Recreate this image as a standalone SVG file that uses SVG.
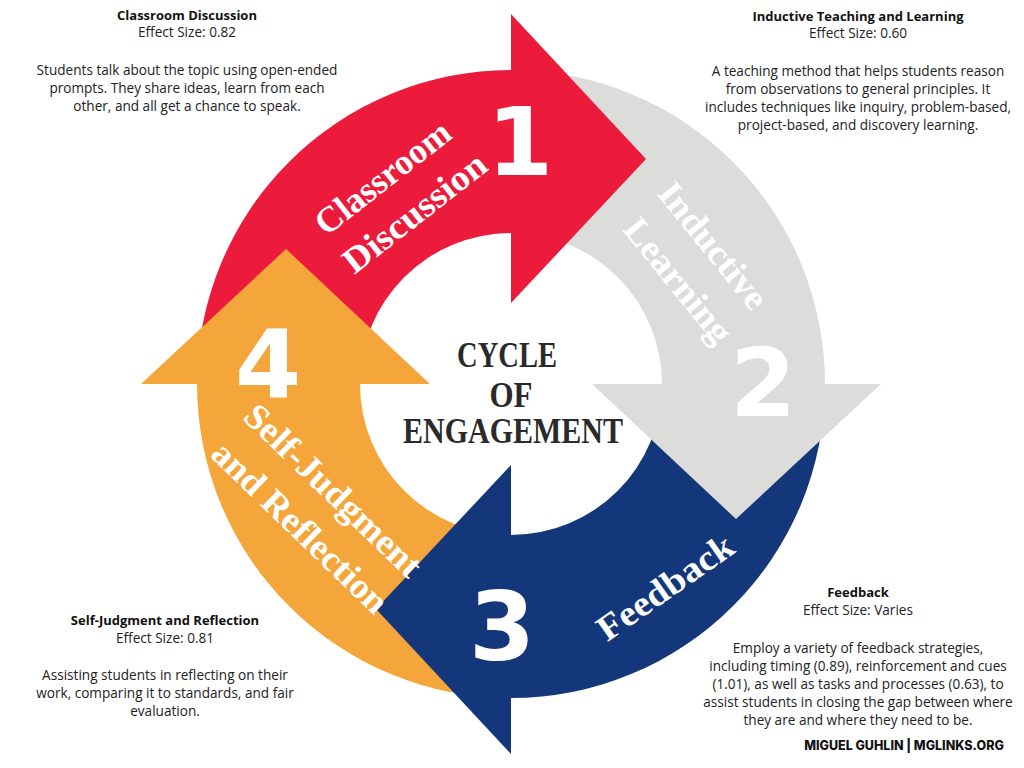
<svg xmlns="http://www.w3.org/2000/svg" width="1024" height="768" viewBox="0 0 1024 768">
<style>
.red{fill:#EC1A3B}
.gray{fill:#DCDCDA}
.blue{fill:#13377A}
.orange{fill:#F4A63A}
.lbl{font-family:"Liberation Serif","DejaVu Serif",serif;font-weight:bold;font-size:36px;fill:#FFFFFF;text-anchor:middle}
.num{font-family:"DejaVu Sans",sans-serif;font-weight:bold;font-size:95px;fill:#FFFFFF;text-anchor:middle}
.ctr{font-family:"Liberation Serif","DejaVu Serif",serif;font-weight:bold;font-size:35px;fill:#2A2A2A;text-anchor:middle}
.ttl{font-family:"Open Sans","Liberation Sans",sans-serif;font-weight:bold;font-size:13px;fill:#111111;text-anchor:middle}
.txt{font-family:"Open Sans","Liberation Sans",sans-serif;font-size:13.6px;fill:#222222;text-anchor:middle}
.credit{font-family:"Inter","Open Sans",sans-serif;font-weight:800;font-size:12.5px;fill:#111111;text-anchor:middle}
</style>
<rect x="0" y="0" width="1024" height="768" fill="#FFFFFF"/>
<g id="connectors">
<path class="red" d="M197,384 A314,314 0 0 1 511,70 L511,233 A151,151 0 0 0 360,384 Z"/>
<path class="gray" d="M511,70 A314,314 0 0 1 825,384 L662,384 A151,151 0 0 0 511,233 Z"/>
<path class="blue" d="M825,384 A314,314 0 0 1 511,698 L511,535 A151,151 0 0 0 662,384 Z"/>
<path class="orange" d="M511,698 A314,314 0 0 1 197,384 L360,384 A151,151 0 0 0 511,535 Z"/>
</g>
<g id="node-classroom-discussion">
<path class="red" d="M511,14 L646,159 L511,303 Z"/>
<text class="lbl" transform="translate(390,187) rotate(-38)" textLength="162" lengthAdjust="spacingAndGlyphs">Classroom</text>
<text class="lbl" transform="translate(422,222) rotate(-38)" textLength="172" lengthAdjust="spacingAndGlyphs">Discussion</text>
<text class="num" x="520" y="175">1</text>
</g>
<g id="node-inductive-learning">
<path class="gray" d="M592,384 L881,384 L736,519 Z"/>
<text class="lbl" transform="translate(704,253) rotate(51)" textLength="152" lengthAdjust="spacingAndGlyphs">Inductive</text>
<text class="lbl" transform="translate(669,288) rotate(51)" textLength="150" lengthAdjust="spacingAndGlyphs">Learning</text>
<text class="num" x="763" y="416">2</text>
</g>
<g id="node-feedback">
<path class="blue" d="M511,754 L511,465 L376,609 Z"/>
<text class="lbl" transform="translate(672,597) rotate(-35)" textLength="158" lengthAdjust="spacingAndGlyphs">Feedback</text>
<text class="num" x="502" y="660">3</text>
</g>
<g id="node-self-judgment">
<path class="orange" d="M141,384 L430,384 L286,249 Z"/>
<text class="lbl" transform="translate(325,499) rotate(44)" textLength="232" lengthAdjust="spacingAndGlyphs">Self-Judgment</text>
<text class="lbl" transform="translate(292,536) rotate(44)" textLength="230" lengthAdjust="spacingAndGlyphs">and Reflection</text>
<text class="num" x="268" y="398">4</text>
</g>
<g id="node-center">
<text class="ctr" x="507" y="367" textLength="100" lengthAdjust="spacingAndGlyphs">CYCLE</text>
<text class="ctr" x="511" y="407" textLength="43" lengthAdjust="spacingAndGlyphs">OF</text>
<text class="ctr" x="513" y="443" textLength="220" lengthAdjust="spacingAndGlyphs">ENGAGEMENT</text>
</g>
<g id="note-classroom">
<text class="ttl" x="187" y="20">Classroom Discussion</text>
<text class="txt" x="187" y="37">Effect Size: 0.82</text>
<text class="txt" x="187" y="75">Students talk about the topic using open-ended</text>
<text class="txt" x="187" y="93">prompts. They share ideas, learn from each</text>
<text class="txt" x="187" y="111">other, and all get a chance to speak.</text>
</g>
<g id="note-inductive">
<text class="ttl" x="858" y="21">Inductive Teaching and Learning</text>
<text class="txt" x="858" y="38">Effect Size: 0.60</text>
<text class="txt" x="858" y="76">A teaching method that helps students reason</text>
<text class="txt" x="858" y="94">from observations to general principles. It</text>
<text class="txt" x="858" y="112">includes techniques like inquiry, problem-based,</text>
<text class="txt" x="858" y="130">project-based, and discovery learning.</text>
</g>
<g id="note-self-judgment">
<text class="ttl" x="165" y="625">Self-Judgment and Reflection</text>
<text class="txt" x="165" y="643">Effect Size: 0.81</text>
<text class="txt" x="165" y="680">Assisting students in reflecting on their</text>
<text class="txt" x="165" y="698">work, comparing it to standards, and fair</text>
<text class="txt" x="165" y="716">evaluation.</text>
</g>
<g id="note-feedback">
<text class="ttl" x="858" y="597">Feedback</text>
<text class="txt" x="858" y="615">Effect Size: Varies</text>
<text class="txt" x="858" y="653">Employ a variety of feedback strategies,</text>
<text class="txt" x="858" y="671">including timing (0.89), reinforcement and cues</text>
<text class="txt" x="858" y="689">(1.01), as well as tasks and processes (0.63), to</text>
<text class="txt" x="858" y="707">assist students in closing the gap between where</text>
<text class="txt" x="858" y="725">they are and where they need to be.</text>
</g>
<text class="credit" x="904" y="750">MIGUEL GUHLIN | MGLINKS.ORG</text>
</svg>
